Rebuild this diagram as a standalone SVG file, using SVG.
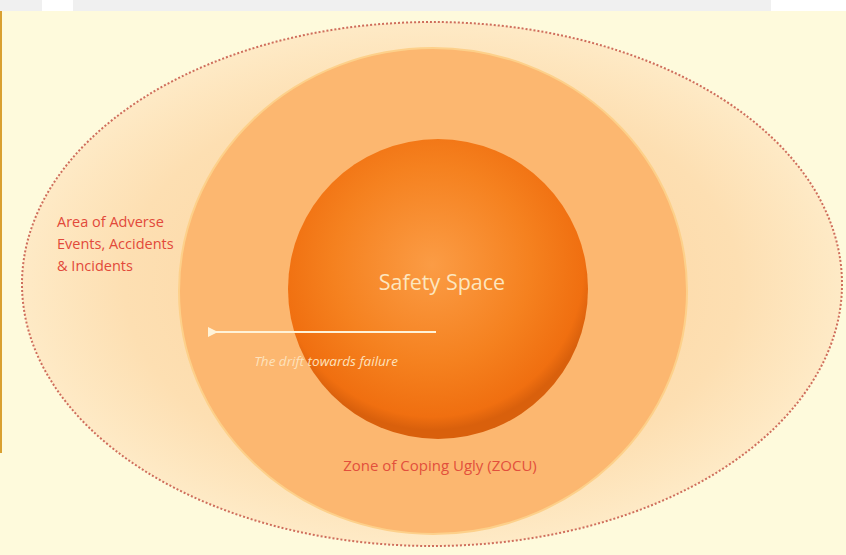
<svg xmlns="http://www.w3.org/2000/svg" width="846" height="555" viewBox="0 0 846 555">
<defs>
<radialGradient id="outerG" cx="0.5" cy="0.5" r="0.5">
<stop offset="0" stop-color="#fcd29c"/>
<stop offset="0.75" stop-color="#fddfb2"/>
<stop offset="1" stop-color="#feeac6"/>
</radialGradient>
<radialGradient id="innerG" cx="0.48" cy="0.42" r="0.55">
<stop offset="0" stop-color="#fb9c45"/>
<stop offset="0.6" stop-color="#f5811f"/>
<stop offset="0.92" stop-color="#f06f10"/>
<stop offset="1" stop-color="#d9600c"/>
</radialGradient>
<marker id="ah" viewBox="0 0 10 10" refX="2" refY="5" markerWidth="5" markerHeight="5" orient="auto">
<path d="M10,0 L0,5 L10,10 Z" fill="#fff3d8"/>
</marker>
<style>
.lbl{font-family:"Open Sans","Liberation Sans",sans-serif;}
</style>
</defs>
<rect x="0" y="0" width="846" height="555" fill="#fefadc"/>
<rect x="0" y="0" width="846" height="11" fill="#ffffff"/>
<rect x="0" y="0" width="42" height="11" fill="#f0f0f0"/>
<rect x="73" y="0" width="698" height="11" fill="#f0f0f0"/>
<rect x="0" y="11" width="2" height="442" fill="#d9a030"/>
<g id="outer">
<ellipse cx="432" cy="284" rx="410" ry="262" fill="url(#outerG)" stroke="#cf6e5c" stroke-width="2" stroke-dasharray="2 2"/>
<text class="lbl" x="57" y="227" font-size="14.5" fill="#e2493a">Area of Adverse</text>
<text class="lbl" x="57" y="249" font-size="14.5" fill="#e2493a">Events, Accidents</text>
<text class="lbl" x="57" y="271" font-size="14.5" fill="#e2493a">&amp; Incidents</text>
</g>
<g id="zocu">
<ellipse cx="433" cy="291" rx="254" ry="243" fill="#fcb770" stroke="#fdd08a" stroke-width="2"/>
<text class="lbl" x="440" y="471" font-size="15" fill="#e2503c" text-anchor="middle">Zone of Coping Ugly (ZOCU)</text>
</g>
<g id="safety">
<circle cx="438" cy="289" r="150" fill="url(#innerG)"/>
<text class="lbl" x="442" y="290" font-size="21.5" fill="#fde6bf" text-anchor="middle">Safety Space</text>
</g>
<g id="connectors">
<line x1="436" y1="332" x2="216" y2="332" stroke="#fff3d8" stroke-width="2" marker-end="url(#ah)"/>
</g>
<text class="lbl" x="326" y="366" font-size="13.5" font-style="italic" fill="#fde2bc" text-anchor="middle">The drift towards failure</text>
</svg>
